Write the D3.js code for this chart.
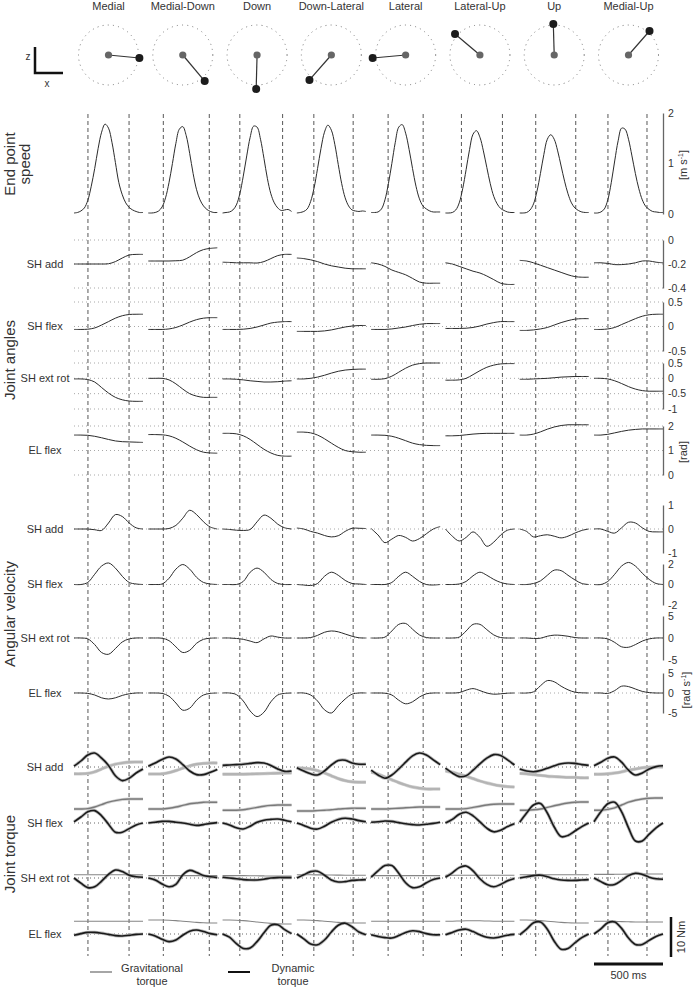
<!DOCTYPE html>
<html>
<head>
<meta charset="utf-8">
<script src="https://cdn.jsdelivr.net/npm/d3@7"></script>
<style>
  body { margin: 0; background: #fff; }
  svg { display: block; font-family: "Liberation Sans", Arial, sans-serif; }
</style>
</head>
<body>
<svg id="chart" width="693" height="992"></svg>
<script>
// reach directions and target offsets (cm, x = lateral->medial, z = up)
const directions = ['Medial', 'Medial-Down', 'Down', 'Down-Lateral', 'Lateral', 'Lateral-Up', 'Up', 'Medial-Up'];
const targetDx = [10.3, 7.3, -0.3, -7.3, -11, -8.3, -0.3, 7];
const targetDz = [-1, -8.7, -11.3, -8.3, -1, 7, 10.3, 8];

// movement onset / offset (ms) per direction
const onsetMs = [101, 109, 125, 123, 123, 116, 116, 101];
const offsetMs = [399, 442, 435, 408, 377, 413, 406, 384];

// sample times (ms)
const tFine = [0, 25, 50, 75, 100, 125, 150, 175, 200, 225, 250, 275, 300, 325, 350, 375, 400, 425, 450, 475, 500];
const tCoarse = [0, 50, 100, 150, 200, 250, 300, 350, 400, 450, 500];

// end point speed (m/s), one row per direction, sampled at tFine
const endpointSpeed = [
  [0.02,0.03,0.06,0.12,0.27,0.55,0.9,1.3,1.62,1.78,1.7,1.42,1.02,0.62,0.38,0.22,0.13,0.08,0.05,0.03,0.03],
  [0.02,0.02,0.03,0.06,0.14,0.32,0.62,1.0,1.4,1.68,1.73,1.55,1.2,0.8,0.48,0.28,0.16,0.09,0.05,0.03,0.03],
  [0.02,0.03,0.04,0.08,0.18,0.4,0.75,1.15,1.52,1.74,1.72,1.48,1.1,0.7,0.4,0.22,0.12,0.07,0.08,0.09,0.05],
  [0.02,0.03,0.05,0.1,0.25,0.52,0.9,1.3,1.62,1.76,1.66,1.38,0.98,0.6,0.32,0.16,0.08,0.06,0.05,0.06,0.05],
  [0.03,0.03,0.04,0.1,0.28,0.6,1.0,1.42,1.72,1.77,1.6,1.28,0.9,0.55,0.3,0.16,0.1,0.06,0.04,0.04,0.04],
  [0.02,0.02,0.03,0.08,0.22,0.5,0.88,1.28,1.58,1.65,1.52,1.25,0.92,0.6,0.35,0.2,0.11,0.07,0.04,0.03,0.03],
  [0.02,0.02,0.03,0.08,0.2,0.45,0.8,1.18,1.48,1.57,1.48,1.25,0.95,0.65,0.4,0.22,0.12,0.07,0.04,0.03,0.03],
  [0.02,0.02,0.04,0.1,0.28,0.62,1.05,1.45,1.7,1.68,1.48,1.15,0.8,0.5,0.28,0.15,0.09,0.05,0.04,0.03,0.03]
];

// joint angles (rad), sampled at tCoarse
const angShAdd = [
  [-0.2,-0.2,-0.2,-0.2,-0.2,-0.198,-0.18,-0.15,-0.125,-0.12,-0.12],
  [-0.175,-0.175,-0.175,-0.175,-0.173,-0.168,-0.14,-0.105,-0.08,-0.07,-0.065],
  [-0.185,-0.187,-0.19,-0.19,-0.19,-0.192,-0.18,-0.155,-0.13,-0.12,-0.12],
  [-0.15,-0.155,-0.165,-0.18,-0.2,-0.215,-0.225,-0.235,-0.24,-0.24,-0.24],
  [-0.19,-0.2,-0.22,-0.25,-0.27,-0.29,-0.32,-0.35,-0.36,-0.36,-0.36],
  [-0.19,-0.2,-0.22,-0.24,-0.26,-0.275,-0.3,-0.33,-0.36,-0.37,-0.37],
  [-0.17,-0.175,-0.19,-0.21,-0.23,-0.25,-0.27,-0.29,-0.305,-0.31,-0.31],
  [-0.19,-0.19,-0.195,-0.205,-0.205,-0.2,-0.19,-0.175,-0.175,-0.185,-0.19]
];
const angShFlex = [
  [-0.06,-0.06,-0.055,-0.03,0.03,0.1,0.17,0.22,0.245,0.25,0.25],
  [-0.06,-0.06,-0.06,-0.05,-0.02,0.03,0.09,0.14,0.17,0.18,0.18],
  [-0.06,-0.06,-0.06,-0.055,-0.04,-0.01,0.03,0.07,0.09,0.1,0.1],
  [-0.1,-0.1,-0.1,-0.1,-0.09,-0.07,-0.04,-0.01,0.01,0.02,0.02],
  [-0.06,-0.06,-0.06,-0.05,-0.03,-0.01,0.02,0.045,0.06,0.06,0.06],
  [-0.04,-0.04,-0.04,-0.035,-0.02,0.01,0.05,0.08,0.1,0.1,0.1],
  [-0.08,-0.08,-0.07,-0.05,-0.02,0.03,0.08,0.12,0.15,0.16,0.16],
  [-0.06,-0.06,-0.05,-0.02,0.04,0.1,0.16,0.21,0.24,0.25,0.25]
];
const angShExt = [
  [-0.02,-0.02,-0.04,-0.12,-0.3,-0.48,-0.62,-0.7,-0.74,-0.75,-0.75],
  [0,0,0,-0.05,-0.18,-0.35,-0.5,-0.58,-0.62,-0.62,-0.62],
  [-0.02,-0.02,-0.03,-0.05,-0.08,-0.1,-0.12,-0.12,-0.11,-0.09,-0.08],
  [-0.02,-0.02,0,0.04,0.1,0.17,0.23,0.27,0.29,0.3,0.3],
  [-0.03,-0.03,-0.01,0.07,0.2,0.33,0.43,0.48,0.5,0.5,0.5],
  [-0.06,-0.06,-0.05,0,0.12,0.25,0.36,0.43,0.47,0.48,0.48],
  [-0.03,-0.03,-0.02,-0.01,0,0.02,0.04,0.05,0.06,0.06,0.06],
  [0,0,-0.02,-0.08,-0.17,-0.27,-0.35,-0.4,-0.42,-0.42,-0.42]
];
const angElFlex = [
  [1.63,1.63,1.62,1.58,1.52,1.45,1.39,1.36,1.35,1.34,1.33],
  [1.65,1.65,1.64,1.6,1.5,1.35,1.18,1.03,0.93,0.9,0.89],
  [1.7,1.7,1.68,1.6,1.45,1.25,1.05,0.9,0.8,0.77,0.77],
  [1.75,1.75,1.72,1.63,1.48,1.3,1.13,1.0,0.95,0.93,0.93],
  [1.63,1.63,1.62,1.58,1.5,1.4,1.3,1.24,1.21,1.2,1.2],
  [1.6,1.6,1.61,1.64,1.67,1.69,1.7,1.7,1.7,1.7,1.7],
  [1.63,1.63,1.67,1.76,1.87,1.96,2.02,2.05,2.05,2.05,2.05],
  [1.63,1.63,1.66,1.72,1.78,1.83,1.86,1.88,1.88,1.88,1.88]
];

// angular velocity (rad/s), sampled at tCoarse
const velShAdd = [
  [0,0,0,-0.03,-0.06,0.25,0.6,0.52,0.25,0.05,0],
  [0,0,0,0.02,0.15,0.45,0.78,0.6,0.3,0.08,0],
  [0,-0.02,-0.05,-0.06,-0.02,0.3,0.58,0.45,0.2,0.05,0],
  [0.04,0,-0.1,-0.17,-0.27,-0.33,-0.28,-0.1,0.03,0.03,0.02],
  [0.02,-0.25,-0.57,-0.42,-0.27,-0.35,-0.5,-0.4,-0.2,0,0.1],
  [0,-0.3,-0.5,-0.35,-0.12,-0.35,-0.72,-0.55,-0.25,-0.05,0],
  [0,-0.1,-0.33,-0.28,-0.24,-0.3,-0.37,-0.3,-0.17,-0.06,0],
  [0,0,-0.1,-0.17,0.05,0.28,0.25,0.05,-0.1,-0.12,-0.12]
];
const velShFlex = [
  [0,0,0.2,1.0,1.8,2.1,1.6,0.8,0.2,0.05,0],
  [0,0,0.05,0.6,1.5,1.95,1.5,0.7,0.2,0.05,0],
  [0,0,0,0.3,1.2,1.6,1.2,0.5,0.1,0,0],
  [0,-0.05,-0.1,0.1,0.8,1.2,0.9,0.4,0.1,0.05,0],
  [0,0,0,0.2,0.8,1.2,0.8,0.3,0,-0.05,0],
  [0,0,0.05,0.3,0.85,1.2,0.9,0.5,0.2,0.05,0],
  [0,0,0.1,0.35,0.9,1.4,1.35,0.9,0.45,0.1,0],
  [0,0,0.3,1.0,1.8,2.15,1.8,1.1,0.5,0.1,0]
];
const velShExt = [
  [0,0,-0.2,-1.5,-3.3,-3.7,-2.4,-0.9,-0.2,0,0],
  [0,0,-0.05,-0.6,-2.0,-3.3,-2.8,-1.2,-0.3,-0.05,0],
  [0,0,-0.1,-0.3,-0.7,-1.05,-0.2,0.45,0.2,0,0],
  [0,0,0.1,0.6,1.3,1.6,1.4,0.9,0.4,0.05,0],
  [0,0,0.2,1.6,3.1,3.3,2.0,0.7,0.1,0,0],
  [0,0,0.2,1.6,3.1,3.1,1.9,0.7,0.1,0,0],
  [0,0,-0.1,-0.05,0.4,0.65,0.6,0.4,0.1,0,0],
  [0,0,-0.2,-1.0,-2.0,-2.1,-1.5,-0.7,-0.2,0,0]
];
const velElFlex = [
  [0,0,-0.1,-0.5,-1.2,-1.5,-1.2,-0.6,-0.2,0,0],
  [0,0,-0.1,-0.8,-2.5,-4.3,-3.8,-1.8,-0.5,-0.1,0],
  [0,0,-0.4,-2.0,-4.5,-5.9,-4.8,-2.2,-0.5,-0.1,0],
  [0,0,-0.5,-2.0,-4.2,-5.0,-3.2,-1.5,-0.3,0,0],
  [0,0,-0.05,-0.5,-1.8,-2.7,-2.2,-1.0,-0.2,0,0],
  [0,0,0.1,0.7,1.1,0.6,0,-0.3,-0.2,-0.05,0],
  [0,0,0.3,1.8,3.1,2.8,1.7,0.8,0.2,0.05,0],
  [0,0,-0.1,0.6,1.7,1.6,1.0,0.4,0.1,0,0]
];

// joint torques (Nm), sampled at tCoarse
const gravShAdd = [
  [-1.7,-1.7,-1.6,-1.2,-0.5,0.2,0.7,1.0,1.2,1.25,1.25],
  [-1.75,-1.75,-1.7,-1.4,-0.9,-0.3,0.3,0.7,0.9,1.0,1.0],
  [-1.8,-1.8,-1.8,-1.8,-1.75,-1.7,-1.65,-1.6,-1.55,-1.5,-1.5],
  [-0.2,-0.3,-0.5,-0.9,-1.5,-2.2,-2.9,-3.4,-3.7,-3.8,-3.8],
  [-1.3,-1.8,-2.5,-3.2,-3.9,-4.5,-5.0,-5.3,-5.5,-5.5,-5.5],
  [-1.0,-1.3,-1.8,-2.3,-2.9,-3.5,-4.0,-4.4,-4.7,-4.9,-5.0],
  [-1.6,-1.7,-1.9,-2.1,-2.3,-2.4,-2.5,-2.6,-2.6,-2.7,-2.7],
  [-1.8,-1.8,-1.7,-1.5,-1.2,-0.8,-0.5,-0.2,-0.05,0,0]
];
const dynShAdd = [
  [0.2,1.5,3.0,3.5,2.2,0.4,-2.2,-3.4,-2.8,-1.5,-0.5],
  [0.2,1.0,1.9,2.5,2.0,0.6,-1.0,-1.9,-1.9,-1.3,-0.6],
  [0.4,0.5,0.6,0.7,0.9,1.1,1.0,0.4,-0.5,-1.1,-1.0],
  [-0.2,-1.0,-1.7,-2.0,-1.0,0.5,1.6,1.7,1.0,0.7,0.7],
  [-0.8,-2.0,-2.8,-2.0,-0.5,1.2,2.8,3.5,3.0,1.8,0.6],
  [-0.3,-1.5,-2.4,-2.2,-0.8,0.8,2.2,3.1,2.9,1.8,0.5],
  [-0.5,-1.0,-1.2,-0.9,-0.3,0.3,0.8,1.0,0.9,0.6,0.4],
  [0.3,1.2,2.2,2.5,1.2,-0.8,-2.0,-1.5,-0.5,0.1,0.3]
];
const gravShFlex = [
  [3.5,3.5,3.6,4.0,4.6,5.2,5.6,5.9,6.0,6.0,6.0],
  [3.5,3.5,3.5,3.7,4.0,4.4,4.8,5.0,5.2,5.2,5.2],
  [3.2,3.2,3.2,3.3,3.6,3.9,4.2,4.4,4.5,4.5,4.5],
  [3.0,3.0,3.0,3.1,3.2,3.3,3.5,3.6,3.7,3.7,3.7],
  [3.5,3.5,3.5,3.6,3.7,3.8,3.9,4.0,4.0,4.0,4.0],
  [3.5,3.5,3.5,3.6,3.9,4.2,4.5,4.7,4.75,4.75,4.75],
  [3.2,3.2,3.3,3.5,3.9,4.3,4.7,5.0,5.2,5.25,5.25],
  [3.2,3.2,3.4,3.8,4.5,5.2,5.7,6.0,6.2,6.25,6.25]
];
const dynShFlex = [
  [0.3,1.5,2.8,3.1,1.8,-0.3,-2.3,-2.3,-1.4,-0.5,0],
  [0,0.2,0.4,0.4,0.2,0,-0.3,-0.6,-0.4,-0.1,0.1],
  [0,-0.5,-1.2,-1.5,-0.8,0.2,0.7,0.9,1.0,0.7,0.3],
  [0,-0.6,-1.3,-1.5,-0.8,0.2,0.9,1.2,1.0,0.6,0.3],
  [0.2,0.3,0.5,0.4,0.1,-0.2,-0.4,-0.5,-0.3,-0.1,0.2],
  [0,0.9,2.2,2.7,1.8,0.3,-1.3,-2.2,-1.8,-0.9,-0.2],
  [0.2,2.5,4.5,4.9,2.5,-1.0,-3.4,-3.1,-2.0,-0.9,0],
  [0.3,2.8,4.8,5.2,2.8,-1.2,-4.5,-4.5,-2.8,-1.2,0]
];
const gravShExt = [
  [0.8,0.8,0.8,0.8,0.8,0.8,0.8,0.8,0.8,0.8,0.8],
  [0.6,0.6,0.6,0.6,0.6,0.6,0.6,0.6,0.6,0.6,0.6],
  [0.6,0.6,0.6,0.6,0.58,0.55,0.52,0.5,0.5,0.5,0.5],
  [0.8,0.8,0.8,0.78,0.76,0.74,0.72,0.7,0.7,0.7,0.7],
  [0.6,0.6,0.6,0.6,0.6,0.6,0.6,0.6,0.6,0.6,0.6],
  [0.7,0.7,0.7,0.7,0.7,0.7,0.7,0.7,0.7,0.7,0.7],
  [0.8,0.8,0.8,0.8,0.8,0.8,0.8,0.8,0.8,0.8,0.8],
  [0.9,0.9,0.9,0.92,0.95,0.97,1.0,1.0,1.0,1.0,1.0]
];
const dynShExt = [
  [0,-1.3,-2.4,-2.2,-0.8,0.9,2.0,1.6,0.7,0.3,0.2],
  [0,-0.5,-1.5,-2.2,-1.6,0.8,1.9,1.4,0.6,0.3,0.1],
  [0.2,0,-0.2,-0.4,-0.5,-0.5,-0.3,0,0.1,0.1,0.1],
  [0,0.8,1.6,1.7,0.7,-0.5,-1.0,-0.9,-0.6,-0.5,-0.4],
  [0.2,1.8,3.1,3.1,1.2,-1.2,-2.4,-2.2,-1.2,-0.4,0],
  [0.2,1.3,2.6,3.0,1.8,-0.2,-1.6,-2.2,-1.6,-0.7,-0.1],
  [0,0.3,0.6,0.7,0.3,-0.2,-0.5,-0.6,-0.6,-0.5,-0.4],
  [0,-0.9,-1.7,-1.6,-0.6,0.6,1.2,0.9,0.2,-0.2,-0.3]
];
const gravElFlex = [
  [3.2,3.2,3.2,3.2,3.2,3.2,3.2,3.2,3.2,3.2,3.2],
  [3.5,3.5,3.5,3.45,3.35,3.2,3.05,2.9,2.8,2.75,2.75],
  [3.5,3.5,3.45,3.35,3.2,3.0,2.8,2.65,2.55,2.5,2.5],
  [3.5,3.5,3.45,3.35,3.2,3.05,2.9,2.8,2.75,2.75,2.75],
  [3.2,3.2,3.2,3.2,3.2,3.2,3.2,3.2,3.2,3.2,3.2],
  [3.2,3.2,3.25,3.3,3.3,3.3,3.25,3.2,3.2,3.2,3.2],
  [3.5,3.5,3.45,3.35,3.2,3.05,2.9,2.8,2.75,2.75,2.75],
  [3.2,3.2,3.2,3.15,3.1,3.05,3.0,3.0,3.0,3.0,3.0]
];
const dynElFlex = [
  [-0.3,0.1,0.4,0.4,0.2,-0.1,-0.4,-0.5,-0.3,-0.1,0],
  [0,-0.5,-1.3,-1.9,-1.5,-0.3,0.7,1.0,0.6,0.1,-0.2],
  [0,-0.8,-2.4,-3.6,-3.5,-1.9,0.3,2.2,2.3,1.1,0.1],
  [0,-1.2,-2.5,-2.7,-1.5,0.5,2.2,2.7,1.8,0.5,-0.2],
  [-0.2,-0.6,-0.9,-1.0,-0.4,0.4,0.8,0.6,0.1,-0.2,-0.2],
  [-0.2,0.4,1.0,1.2,0.6,-0.2,-0.8,-1.0,-0.7,-0.3,-0.1],
  [-0.2,1.2,2.8,3.0,1.2,-1.8,-3.8,-3.6,-2.2,-0.9,0],
  [0,1.3,2.8,3.0,1.4,-1.0,-2.6,-2.6,-1.6,-0.6,0]
];

const jointLabels = ['SH add', 'SH flex', 'SH ext rot', 'EL flex'];

// ---------------------------------------------------------------------------
const svg = d3.select('#chart');
const TXT = '#333';
const AXIS_X = 663;

// one panel per direction, each 500 ms wide
const colX = d3.scaleLinear().domain([0, 7]).range([74, 594]);
const tx = d3.scaleLinear().domain([0, 500]).range([0, 69]);
const mid = i => colX(i) + tx(250);

function lineFor(tArr, col, y) {
  return d3.line()
    .x((v, k) => colX(col) + tx(tArr[k]))
    .y(v => y(v))
    .curve(d3.curveCatmullRom.alpha(0.5));
}

function rotLabel(x, y, text, size) {
  return svg.append('text')
    .attr('transform', `translate(${x},${y}) rotate(-90)`)
    .attr('text-anchor', 'middle')
    .attr('font-size', size)
    .attr('fill', TXT)
    .text(text);
}

// --- direction diagrams -----------------------------------------------------
const disp = d3.scaleLinear().domain([0, 10]).range([0, 30]);
const CY = 55;
const topG = svg.append('g');
directions.forEach((name, i) => {
  const cx = mid(i);
  topG.append('text').attr('x', cx).attr('y', 10).attr('text-anchor', 'middle')
    .attr('font-size', 11).attr('fill', TXT).text(name);
  topG.append('circle').attr('cx', cx).attr('cy', CY).attr('r', disp(10))
    .attr('fill', 'none').attr('stroke', '#777').attr('stroke-width', 1)
    .attr('stroke-dasharray', '1,4.2');
  const ex = cx + disp(targetDx[i]), ey = CY - disp(targetDz[i]);
  topG.append('line').attr('x1', cx).attr('y1', CY).attr('x2', ex).attr('y2', ey)
    .attr('stroke', '#333').attr('stroke-width', 1.2);
  topG.append('circle').attr('cx', cx).attr('cy', CY).attr('r', 3.6).attr('fill', '#666');
  topG.append('circle').attr('cx', ex).attr('cy', ey).attr('r', 4).attr('fill', '#1c1c1c');
});
// z / x orientation bar
topG.append('path').attr('d', `M35,${CY - 8} V73 H63`).attr('fill', 'none')
  .attr('stroke', '#111').attr('stroke-width', 2.5);
topG.append('text').attr('x', 28).attr('y', 60).attr('text-anchor', 'middle')
  .attr('font-size', 10).attr('fill', TXT).text('z');
topG.append('text').attr('x', 47).attr('y', 87).attr('text-anchor', 'middle')
  .attr('font-size', 10).attr('fill', TXT).text('x');

// --- rows ------------------------------------------------------------------
const speedRow = { data: endpointSpeed, t: tFine, domain: [0, 2], range: [214, 113], ticks: [0, 1, 2], grid: [] };
const angleRows = [
  { data: angShAdd, domain: [-0.4, 0], range: [288, 240], ticks: [0, -0.2, -0.4], labelAt: -0.2 },
  { data: angShFlex, domain: [-0.5, 0.5], range: [351, 302], ticks: [0.5, 0, -0.5], labelAt: 0 },
  { data: angShExt, domain: [-1, 0.5], range: [409, 363], ticks: [0.5, 0, -0.5, -1], labelAt: 0 },
  { data: angElFlex, domain: [0, 2], range: [475, 426], ticks: [2, 1, 0], labelAt: 1 }
];
const velRows = [
  { data: velShAdd, domain: [-1, 1], range: [553, 505], ticks: [1, 0, -1] },
  { data: velShFlex, domain: [-2, 2], range: [605, 564], ticks: [2, 0, -2] },
  { data: velShExt, domain: [-5, 5], range: [660, 616], ticks: [5, 0, -5] },
  { data: velElFlex, domain: [-5, 5], range: [713, 673], ticks: [5, 0, -5] }
];
angleRows.forEach((r, k) => { r.t = tCoarse; r.grid = r.ticks; r.label = jointLabels[k]; });
velRows.forEach((r, k) => { r.t = tCoarse; r.grid = [0]; r.labelAt = 0; r.label = jointLabels[k]; });

const torqueRows = [
  { grav: gravShAdd, dyn: dynShAdd, zero: 767, gColor: '#b4b4b4', gWidth: 2.2, gBand: 3.4 },
  { grav: gravShFlex, dyn: dynShFlex, zero: 823, gColor: '#7a7a7a', gWidth: 1.4, gBand: 3 },
  { grav: gravShExt, dyn: dynShExt, zero: 878, gColor: '#858585', gWidth: 1.1, gBand: 0 },
  { grav: gravElFlex, dyn: dynElFlex, zero: 934, gColor: '#858585', gWidth: 1.1, gBand: 0 }
];
torqueRows.forEach((r, k) => {
  r.label = jointLabels[k];
  r.y = d3.scaleLinear().domain([-10, 10]).range([r.zero + 40, r.zero - 40]);
});

const gridG = svg.append('g');
const dashG = svg.append('g');
const curveG = svg.append('g');
const axisG = svg.append('g');

function gridLines(y, vals, color) {
  gridG.selectAll(null).data(vals).join('line')
    .attr('x1', colX(0)).attr('x2', AXIS_X)
    .attr('y1', d => y(d)).attr('y2', d => y(d))
    .attr('stroke', color).attr('stroke-width', 1).attr('stroke-dasharray', '1,3');
}

function drawLineRow(row) {
  const y = d3.scaleLinear().domain(row.domain).range(row.range);
  gridLines(y, row.grid, '#a8a8a8');
  row.data.forEach((vals, c) => {
    curveG.append('path').attr('d', lineFor(row.t, c, y)(vals))
      .attr('fill', 'none').attr('stroke', '#2b2b2b').attr('stroke-width', 1);
  });
  const ax = axisG.append('g').attr('transform', `translate(${AXIS_X},0)`)
    .call(d3.axisRight(y).tickValues(row.ticks).tickSize(0).tickPadding(5).tickFormat(d => String(d)));
  ax.attr('font-family', null).attr('font-size', 10.5);
  ax.select('.domain').attr('stroke', '#666').attr('stroke-width', 1.3);
  ax.selectAll('text').attr('fill', TXT).attr('dy', '0.3em');
  if (row.label) {
    axisG.append('text').attr('x', 45).attr('y', y(row.labelAt)).attr('dy', '0.35em')
      .attr('text-anchor', 'middle').attr('font-size', 11).attr('fill', TXT).text(row.label);
  }
}

drawLineRow(speedRow);
angleRows.forEach(drawLineRow);
velRows.forEach(drawLineRow);

// torque panels: light halo around the dynamic torque stands for the spread
torqueRows.forEach(row => {
  gridLines(row.y, [0], '#666');
  for (let c = 0; c < directions.length; c++) {
    const gen = lineFor(tCoarse, c, row.y);
    if (row.gBand) {
      curveG.append('path').attr('d', gen(row.grav[c])).attr('fill', 'none')
        .attr('stroke', '#d2d2d2').attr('stroke-width', row.gBand);
    }
    curveG.append('path').attr('d', gen(row.dyn[c])).attr('fill', 'none')
      .attr('stroke', '#b9b9b9').attr('stroke-width', 3.2);
    curveG.append('path').attr('d', gen(row.grav[c])).attr('fill', 'none')
      .attr('stroke', row.gColor).attr('stroke-width', row.gWidth);
    curveG.append('path').attr('d', gen(row.dyn[c])).attr('fill', 'none')
      .attr('stroke', '#1a1a1a').attr('stroke-width', 1.6);
  }
  axisG.append('text').attr('x', 45).attr('y', row.zero).attr('dy', '0.35em')
    .attr('text-anchor', 'middle').attr('font-size', 11).attr('fill', TXT).text(row.label);
});

// movement onset / offset markers
directions.forEach((d, i) => {
  [onsetMs[i], offsetMs[i]].forEach(t => {
    dashG.append('line')
      .attr('x1', colX(i) + tx(t)).attr('x2', colX(i) + tx(t))
      .attr('y1', 114).attr('y2', 956)
      .attr('stroke', '#444').attr('stroke-width', 0.9).attr('stroke-dasharray', '4,3');
  });
});

// --- section titles and units --------------------------------------------
rotLabel(14.5, 164, 'End point', 15);
rotLabel(30, 164, 'speed', 15);
rotLabel(14.5, 360, 'Joint angles', 15);
rotLabel(14.5, 614, 'Angular velocity', 15);
rotLabel(14.5, 854, 'Joint torque', 15);

function unitLabel(x, y, main, sup) {
  const t = svg.append('text')
    .attr('transform', `translate(${x},${y}) rotate(-90)`)
    .attr('text-anchor', 'middle').attr('font-size', 11).attr('fill', TXT);
  t.append('tspan').text(main);
  if (sup) {
    t.append('tspan').attr('font-size', 7).attr('dy', -4).text(sup);
    t.append('tspan').attr('dy', 4).text(']');
  }
  return t;
}
unitLabel(687, 165, '[m s', '-1');
unitLabel(687, 452, '[rad]');
unitLabel(690, 690, '[rad s', '-1');

// --- scale bars and legend ------------------------------------------------
const nm = d3.scaleLinear().domain([0, 10]).range([0, 40]);
svg.append('line').attr('x1', 671).attr('x2', 671).attr('y1', 957).attr('y2', 957 - nm(10))
  .attr('stroke', '#111').attr('stroke-width', 2.5);
unitLabel(685, 937, '10 Nm');
svg.append('line').attr('x1', colX(7) + tx(0)).attr('x2', colX(7) + tx(500))
  .attr('y1', 964).attr('y2', 964).attr('stroke', '#111').attr('stroke-width', 3);
svg.append('text').attr('x', mid(7)).attr('y', 979).attr('text-anchor', 'middle')
  .attr('font-size', 11).attr('fill', TXT).text('500 ms');

const legend = [
  { name: 'Gravitational', color: '#888', width: 1.5, x: 90, tx: 152 },
  { name: 'Dynamic', color: '#111', width: 2, x: 228, tx: 293 }
];
legend.forEach(l => {
  svg.append('line').attr('x1', l.x).attr('x2', l.x + 22).attr('y1', 972).attr('y2', 972)
    .attr('stroke', l.color).attr('stroke-width', l.width);
  svg.append('text').attr('x', l.tx).attr('y', 972).attr('text-anchor', 'middle')
    .attr('font-size', 11).attr('fill', TXT).text(l.name);
  svg.append('text').attr('x', l.tx).attr('y', 985).attr('text-anchor', 'middle')
    .attr('font-size', 11).attr('fill', TXT).text('torque');
});
</script>
</body>
</html>
